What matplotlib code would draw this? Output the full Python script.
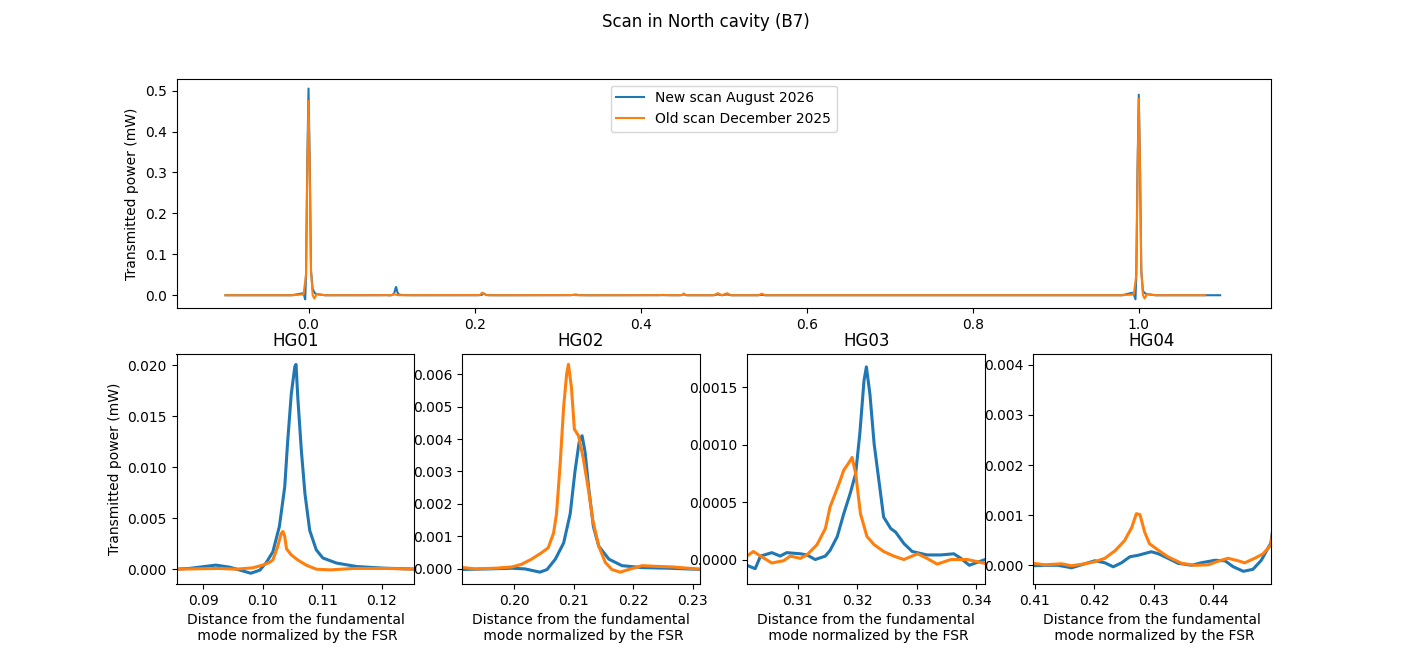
import matplotlib
matplotlib.use("Agg")
import matplotlib.pyplot as plt
import numpy as np

# fundamental mode (near 0) and next FSR (near 1)
fund_x_new = [-0.02, -0.009, -0.006, -0.004, -0.003, -0.0015, 0.0, 0.0015, 0.003, 0.005, 0.008, 0.012, 0.02]
fund_y_new = [0.0, 0.004, 0.005, -0.01, 0.05, 0.32, 0.505, 0.32, 0.06, 0.015, 0.004, 0.002, 0.0]
fund_x_old = [-0.02, -0.006, -0.003, -0.0015, 0.0, 0.0015, 0.003, 0.005, 0.007, 0.01, 0.013, 0.02]
fund_y_old = [0.0, 0.002, 0.05, 0.30, 0.475, 0.30, 0.06, 0.0, -0.008, 0.003, 0.002, 0.0]

fsr_x_new = [0.98, 0.99, 0.9935, 0.996, 0.997, 0.9985, 1.0, 1.0015, 1.003, 1.005, 1.008, 1.012, 1.02]
fsr_y_new = [0.0, 0.005, 0.006, -0.01, 0.05, 0.31, 0.49, 0.31, 0.06, 0.01, 0.004, 0.002, 0.0]
fsr_x_old = [0.98, 0.994, 0.997, 0.9985, 1.0, 1.0015, 1.003, 1.005, 1.007, 1.01, 1.013, 1.02]
fsr_y_old = [0.0, 0.002, 0.05, 0.30, 0.48, 0.30, 0.06, 0.0, -0.008, 0.003, 0.002, 0.0]

# HG01
hg01_x_new = [0.0855, 0.0876, 0.0921, 0.0944, 0.0964, 0.0980, 0.0995, 0.1006, 0.1017, 0.1028, 0.1037, 0.1042,
              0.1048, 0.1054, 0.1056, 0.1059, 0.1065, 0.1071, 0.1079, 0.1090, 0.1101, 0.1124, 0.1158, 0.1203, 0.1260]
hg01_y_new = [0.0, 0.00007, 0.0004, 0.0002, -0.00013, -0.0004, -0.0001, 0.00065, 0.0017, 0.0042, 0.0081, 0.0126,
              0.0172, 0.0199, 0.0201, 0.0168, 0.0116, 0.0074, 0.0038, 0.0019, 0.0011, 0.0006, 0.00026, 0.0001, 0.0]
hg01_x_old = [0.0850, 0.0927, 0.0955, 0.0983, 0.1000, 0.1011, 0.1017, 0.1025, 0.1031, 0.1034, 0.1037, 0.1040,
              0.1048, 0.1059, 0.1073, 0.1090, 0.1113, 0.1152, 0.1208, 0.1260]
hg01_y_old = [0.0, 0.00007, 0.0, 0.00013, 0.0004, 0.00065, 0.0009, 0.0022, 0.0035, 0.0037, 0.0032, 0.0020,
              0.0014, 0.0009, 0.0004, 0.0, -0.00007, 0.00007, 0.00007, 0.0]

# HG02
hg02_x_new = [0.1905, 0.1956, 0.1996, 0.2018, 0.2043, 0.2055, 0.2069, 0.2083, 0.2094, 0.2102, 0.2109, 0.2114,
              0.2119, 0.2125, 0.2133, 0.2142, 0.2159, 0.2181, 0.2215, 0.2260, 0.2320]
hg02_y_new = [-0.00002, 0.0, 0.00002, 0.0, -0.0001, -0.00002, 0.0003, 0.0008, 0.0017, 0.0030, 0.0039, 0.0041,
              0.0036, 0.0025, 0.0013, 0.0007, 0.0003, 0.0001, 0.00004, 0.00002, -0.00002]
hg02_x_old = [0.1905, 0.1934, 0.1967, 0.1996, 0.2012, 0.2029, 0.2046, 0.2057, 0.2066, 0.2071, 0.2077, 0.2083,
              0.2088, 0.2091, 0.2096, 0.2101, 0.2108, 0.2116, 0.2125, 0.2132, 0.2142, 0.2153, 0.2164, 0.2178,
              0.2192, 0.2215, 0.2237, 0.2266, 0.2320]
hg02_y_old = [0.00006, 0.0, 0.00002, 0.00006, 0.00014, 0.0003, 0.0005, 0.00065, 0.0011, 0.0017, 0.0032, 0.0050,
              0.0060, 0.0063, 0.0056, 0.0043, 0.0041, 0.0034, 0.0024, 0.0015, 0.0007, 0.0002, -0.00002, -0.0001,
              -0.00002, 0.0001, 0.00008, 0.00006, -0.00002]

# HG03
hg03_x_new = [0.3008, 0.3014, 0.3028, 0.3037, 0.3056, 0.3070, 0.3081, 0.3104, 0.3115, 0.3129, 0.3146, 0.3154,
              0.3166, 0.3177, 0.3188, 0.3197, 0.3204, 0.3211, 0.3215, 0.3221, 0.3228, 0.3236, 0.3244, 0.3256,
              0.3264, 0.3278, 0.3292, 0.3317, 0.3340, 0.3362, 0.3374, 0.3388, 0.3420]
hg03_y_new = [0.0, -0.00005, -0.00008, 0.00003, 0.00006, 0.00003, 0.00006, 0.00005, 0.00004, 0.0, 0.00003, 0.00008,
              0.0002, 0.0004, 0.00058, 0.00075, 0.0011, 0.00156, 0.00168, 0.00144, 0.00101, 0.00069, 0.00037,
              0.00027, 0.00024, 0.00014, 0.00007, 0.00004, 0.00004, 0.00005, 0.00001, -0.00005, 0.00001]
hg03_x_old = [0.3008, 0.3014, 0.3025, 0.3037, 0.3056, 0.3076, 0.3087, 0.3104, 0.3115, 0.3132, 0.3146, 0.3154,
              0.3163, 0.3171, 0.3177, 0.3185, 0.3191, 0.3197, 0.3205, 0.3216, 0.3228, 0.3244, 0.3261, 0.3278,
              0.3301, 0.3317, 0.3334, 0.3357, 0.3385, 0.3420]
hg03_y_old = [0.0, 0.00003, 0.00007, 0.00003, -0.00003, -0.00001, 0.00003, 0.00001, 0.00004, 0.00013, 0.00027,
              0.00046, 0.00058, 0.00069, 0.00078, 0.00084, 0.00089, 0.00075, 0.0004, 0.0002, 0.00013, 0.00007,
              0.00003, 0.0, 0.00005, 0.00001, -0.00004, 0.0, 0.0, -0.00004]

# HG04 (and the small bump just after it)
hg04_x_new = [0.4090, 0.4097, 0.4117, 0.4139, 0.4162, 0.4184, 0.4201, 0.4218, 0.4232, 0.4246, 0.4260, 0.4274,
              0.4296, 0.4308, 0.4324, 0.4341, 0.4364, 0.4380, 0.4403, 0.4420, 0.4434, 0.4451, 0.4467, 0.4481,
              0.4497, 0.4510, 0.4520, 0.4535, 0.4560]
hg04_y_new = [0.0, -0.00001, 0.0, 0.0, -0.00005, 0.00003, 0.00009, 0.00005, -0.00003, 0.00005, 0.00017, 0.0002,
              0.00027, 0.00023, 0.00014, 0.00004, 0.0, 0.00005, 0.0001, 0.00009, -0.00003, -0.00012, -0.00008,
              0.0001, 0.00044, 0.0015, 0.004, 0.001, 0.0]
hg04_x_old = [0.4090, 0.4097, 0.4117, 0.4145, 0.4162, 0.4184, 0.4201, 0.4218, 0.4235, 0.4251, 0.4263, 0.4271,
              0.4277, 0.4285, 0.4293, 0.4308, 0.4324, 0.4347, 0.4369, 0.4392, 0.4408, 0.4425, 0.4442, 0.4453,
              0.4470, 0.4484, 0.4497, 0.4510, 0.4520, 0.4535, 0.4560]
hg04_y_old = [0.0, 0.00004, 0.00001, 0.00003, -0.00001, 0.00003, 0.00007, 0.00014, 0.00029, 0.00049, 0.00075,
              0.00103, 0.00101, 0.00066, 0.00043, 0.0003, 0.00017, 0.00004, 0.0, 0.00001, 0.00008, 0.00014,
              0.00009, 0.00005, 0.00014, 0.00023, 0.0004, 0.0014, 0.0035, 0.0009, 0.0]

# small features around half FSR
mid_x = [0.488, 0.493, 0.498, 0.504, 0.509, 0.542, 0.546, 0.550]
mid_y_new = [0.0, 0.002, 0.0, 0.002, 0.0, 0.0, 0.001, 0.0]
mid_y_old = [0.0, 0.005, 0.0, 0.005, 0.0, 0.0, 0.004, 0.0]

scan_start = -0.1
scan_end_new = 1.098
scan_end_old = 1.08

new_x = np.concatenate([[scan_start], fund_x_new, hg01_x_new, hg02_x_new, hg03_x_new, hg04_x_new, mid_x,
                        fsr_x_new, [scan_end_new]])
new_y = np.concatenate([[0.0], fund_y_new, hg01_y_new, hg02_y_new, hg03_y_new, hg04_y_new, mid_y_new,
                        fsr_y_new, [0.0]])
old_x = np.concatenate([[scan_start], fund_x_old, hg01_x_old, hg02_x_old, hg03_x_old, hg04_x_old, mid_x,
                        fsr_x_old, [scan_end_old]])
old_y = np.concatenate([[0.0], fund_y_old, hg01_y_old, hg02_y_old, hg03_y_old, hg04_y_old, mid_y_old,
                        fsr_y_old, [0.0]])

modes = ["HG01", "HG02", "HG03", "HG04"]
mode_centers = [0.1055, 0.2112, 0.3215, 0.4297]
mode_ylims = [(-0.00144, 0.0211), (-0.00046, 0.00661), (-0.000212, 0.00179), (-0.00037, 0.00421)]

fig = plt.figure(figsize=(14.12, 6.56), dpi=100)
gs = fig.add_gridspec(2, 4)

ax = fig.add_subplot(gs[0, :])
ax.plot(new_x, new_y, label="New scan August 2026")
ax.plot(old_x, old_y, label="Old scan December 2025")
ax.set_xlim(-0.159, 1.159)
ax.set_ylim(-0.032, 0.529)
ax.set_ylabel("Transmitted power (mW)")
ax.legend(loc="upper center")

for i in range(4):
    a = fig.add_subplot(gs[1, i])
    a.plot(new_x, new_y, lw=2.2)
    a.plot(old_x, old_y, lw=2.2)
    a.set_xlim(mode_centers[i] - 0.02, mode_centers[i] + 0.02)
    a.set_ylim(*mode_ylims[i])
    a.set_title(modes[i])
    a.set_xlabel("Distance from the fundamental\n mode normalized by the FSR")
    if i == 0:
        a.set_ylabel("Transmitted power (mW)")

fig.suptitle("Scan in North cavity (B7)")
plt.savefig("out.png")
